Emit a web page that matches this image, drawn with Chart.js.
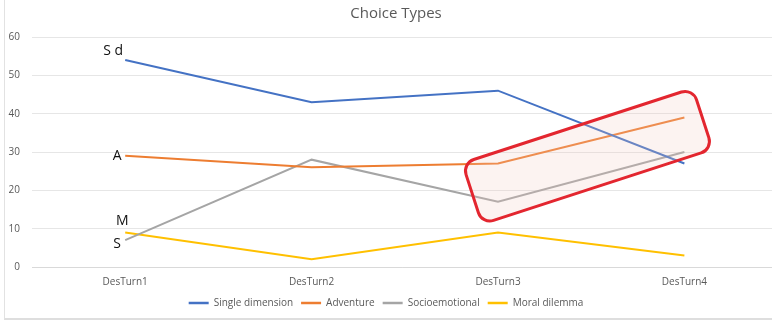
<!DOCTYPE html>
<html>
<head>
<meta charset="utf-8">
<script src="https://cdn.jsdelivr.net/npm/chart.js@4"></script>
<style>
  html, body { margin: 0; padding: 0; background: #fff; }
  #wrap { position: relative; width: 772px; height: 322px; }
  #frame { position: absolute; left: 4px; top: 0; width: 768px; height: 318px; border-left: 1px solid #e2e2e2; border-bottom: 2px solid #dedede; pointer-events: none; }
  canvas { display: block; }
</style>
</head>
<body>
<div id="wrap"><canvas id="choiceChart" width="772" height="322"></canvas><div id="frame"></div></div>
<script>
// data
const turns = ['DesTurn1', 'DesTurn2', 'DesTurn3', 'DesTurn4'];
const singleDimension = [54, 43, 46, 27];
const adventure = [29, 26, 27, 39];
const socioemotional = [7, 28, 17, 30];
const moralDilemma = [9, 2, 9, 3];
const yTicks = [0, 10, 20, 30, 40, 50, 60];

const toPoints = arr => arr.map((v, i) => ({ x: i, y: v }));

// hand-written letters next to the first points
const notes = [
  { text: 'S d', series: 0, dx: -12, dy: -9 },
  { text: 'A', series: 1, dx: -8, dy: 0 },
  { text: 'M', series: 3, dx: -3, dy: -11 },
  { text: 'S', series: 2, dx: -8, dy: 4 }
];

// title, red rounded box over DesTurn3 - DesTurn4 and the letters
const overlay = {
  id: 'overlay',
  afterDatasetsDraw(chart) {
    const { ctx, scales: { x, y } } = chart;
    const step = x.getPixelForValue(1) - x.getPixelForValue(0);
    const cx = x.getPixelForValue(2.48);
    const cy = y.getPixelForValue(28.9);
    const w = step * 1.3, h = 64, r = 12;
    ctx.save();
    ctx.translate(cx, cy);
    ctx.rotate(-18 * Math.PI / 180);
    ctx.beginPath();
    ctx.roundRect(-w / 2, -h / 2, w, h, r);
    ctx.fillStyle = 'rgba(240, 200, 190, 0.22)';
    ctx.fill();
    ctx.lineWidth = 3;
    ctx.strokeStyle = '#e3262f';
    ctx.stroke();
    ctx.restore();

    ctx.save();
    ctx.font = '14px "Open Sans", sans-serif';
    ctx.fillStyle = '#111';
    ctx.textAlign = 'center';
    ctx.textBaseline = 'middle';
    notes.forEach(n => {
      const pt = chart.getDatasetMeta(n.series).data[0];
      ctx.fillText(n.text, pt.x + n.dx, pt.y + n.dy);
    });
    ctx.font = '15px "Open Sans", sans-serif';
    ctx.fillStyle = '#595959';
    ctx.fillText('Choice Types', 396, 14);
    ctx.restore();
  }
};

const ctx = document.getElementById('choiceChart').getContext('2d');
const choiceChart = new Chart(ctx, {
  type: 'line',
  data: {
    datasets: [
      { label: 'Single dimension', data: toPoints(singleDimension), borderColor: '#4472C4', pointBorderColor: '#4472C4' },
      { label: 'Adventure', data: toPoints(adventure), borderColor: '#ED7D31', pointBorderColor: '#ED7D31' },
      { label: 'Socioemotional', data: toPoints(socioemotional), borderColor: '#A5A5A5', pointBorderColor: '#A5A5A5' },
      { label: 'Moral dilemma', data: toPoints(moralDilemma), borderColor: '#FFC000', pointBorderColor: '#FFC000' }
    ]
  },
  options: {
    responsive: false,
    animation: false,
    devicePixelRatio: 1,
    layout: { padding: { left: 0, right: 0, top: 37, bottom: 4 } },
    elements: {
      line: { borderWidth: 2, tension: 0 },
      point: { radius: 0, borderWidth: 2.5 }
    },
    plugins: {
      title: { display: false },
      legend: {
        position: 'bottom',
        labels: {
          usePointStyle: true,
          pointStyle: 'line',
          pointStyleWidth: 20,
          boxHeight: 2,
          color: '#595959',
          font: { family: '"Open Sans", sans-serif', size: 10 },
          padding: 8
        }
      },
      tooltip: { enabled: false }
    },
    scales: {
      x: {
        type: 'linear',
        min: -0.5,
        max: 3.47,
        afterBuildTicks(axis) { axis.ticks = turns.map((t, i) => ({ value: i })); },
        afterFit(axis) { axis.height = 23; },
        grid: { display: false, drawTicks: false },
        border: { color: '#d9d9d9' },
        ticks: {
          color: '#595959',
          font: { family: '"Open Sans", sans-serif', size: 10 },
          padding: 9,
          callback: v => turns[v]
        }
      },
      y: {
        min: 0,
        max: 60,
        afterBuildTicks(axis) { axis.ticks = yTicks.map(v => ({ value: v })); },
        afterFit(axis) { axis.width = 32; },
        grid: { color: '#e6e6e6', drawTicks: false },
        border: { display: false },
        ticks: { color: '#595959', font: { family: '"Open Sans", sans-serif', size: 10 }, padding: 12 }
      }
    }
  },
  plugins: [overlay]
});
</script>
</body>
</html>
